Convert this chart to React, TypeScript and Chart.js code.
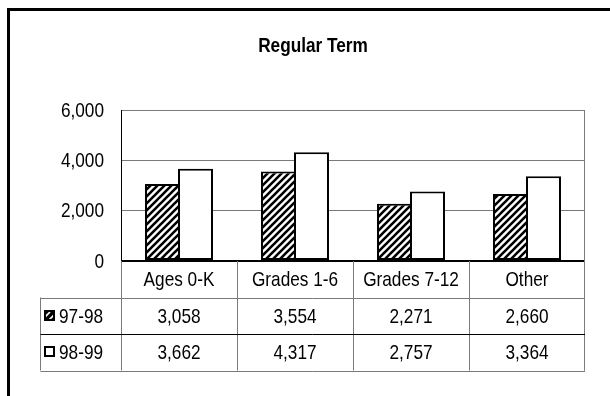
import React, { useEffect, useRef } from "react";
import { Chart, registerables } from "chart.js";

Chart.register(...registerables);

const title = "Regular Term";
const categories = ["Ages 0-K", "Grades 1-6", "Grades 7-12", "Other"];
const seriesNames = ["97-98", "98-99"];
const values9798 = [3058, 3554, 2271, 2660];
const values9899 = [3662, 4317, 2757, 3364];
const yTicks = [0, 2000, 4000, 6000];

const FONT = "'Liberation Sans', Arial, sans-serif";
const FS = 21;
const SQUEEZE = 0.82;

function makeHatch(): CanvasPattern | string {
  const c = document.createElement("canvas");
  const n = 7;
  c.width = n;
  c.height = n;
  const g = c.getContext("2d");
  if (!g) return "#555";
  g.fillStyle = "#fff";
  g.fillRect(0, 0, n, n);
  g.strokeStyle = "#000";
  g.lineWidth = 2.6;
  g.beginPath();
  g.moveTo(-1, n + 1);
  g.lineTo(n + 1, -1);
  g.moveTo(-2, 2);
  g.lineTo(2, -2);
  g.moveTo(n - 2, n + 2);
  g.lineTo(n + 2, n - 2);
  g.stroke();
  const p = g.createPattern(c, "repeat");
  return p || "#555";
}

const fmt = (v: number) => v.toLocaleString("en-US");

function narrowText(
  ctx: CanvasRenderingContext2D,
  text: string,
  x: number,
  y: number,
  align: CanvasTextAlign,
  bold = false
) {
  ctx.save();
  ctx.font = `${bold ? "bold " : ""}${FS}px ${FONT}`;
  ctx.fillStyle = "#000";
  ctx.textAlign = align;
  ctx.textBaseline = "middle";
  ctx.translate(x, y);
  ctx.scale(SQUEEZE, 1);
  ctx.fillText(text, 0, 0);
  ctx.restore();
}

const tablePlugin = {
  id: "tablePlugin",
  afterDraw(chart: any) {
    const ctx = chart.ctx as CanvasRenderingContext2D;
    const area = chart.chartArea;
    const yScale = chart.scales.y;
    const n = categories.length;
    const catW = (area.right - area.left) / n;
    const rowH = 36.5;
    const top0 = area.bottom;
    const legendLeft = 40.5;
    ctx.save();

    // outer frame
    ctx.fillStyle = "#000";
    ctx.fillRect(7, 8, 700, 3);
    ctx.fillRect(7, 8, 3, 500);

    // title
    narrowText(ctx, title, 313, 46, "center", true);

    // y tick labels
    yTicks.forEach((v) => {
      narrowText(ctx, fmt(v), 104, yScale.getPixelForValue(v) + 1, "right");
    });

    const grey = "#7a7a7a";
    ctx.lineWidth = 1;
    ctx.strokeStyle = grey;
    ctx.beginPath();
    ctx.moveTo(area.right - 0.5, area.top);
    ctx.lineTo(area.right - 0.5, top0 + rowH * 3);
    ctx.stroke();

    for (let i = 0; i <= n; i++) {
      const x = Math.round(area.left + catW * i) + 0.5;
      ctx.beginPath();
      ctx.moveTo(i === n ? x - 1 : x, top0);
      ctx.lineTo(i === n ? x - 1 : x, top0 + rowH * 3);
      ctx.stroke();
    }
    ctx.beginPath();
    ctx.moveTo(legendLeft, top0 + rowH);
    ctx.lineTo(legendLeft, top0 + rowH * 3);
    ctx.stroke();
    const hl = (y: number, color: string) => {
      ctx.strokeStyle = color;
      ctx.beginPath();
      ctx.moveTo(legendLeft, Math.round(y) + 0.5);
      ctx.lineTo(area.right, Math.round(y) + 0.5);
      ctx.stroke();
    };
    hl(top0 + rowH, grey);
    hl(top0 + rowH * 2, "#000");
    hl(top0 + rowH * 3, grey);

    const rows = [values9798, values9899];
    for (let i = 0; i < n; i++) {
      const cx = area.left + catW * (i + 0.5);
      narrowText(ctx, categories[i], cx, top0 + rowH * 0.5 + 1, "center");
      rows.forEach((r, k) => {
        narrowText(ctx, fmt(r[i]), cx, top0 + rowH * (k + 1.5) + 1, "center");
      });
    }
    seriesNames.forEach((name, k) => {
      const cy = top0 + rowH * (k + 1.5);
      const kx = 44;
      const ky = Math.round(cy - 6);
      if (k === 0) {
        ctx.fillStyle = "#000";
        ctx.fillRect(kx, ky, 11, 11);
        ctx.save();
        ctx.beginPath();
        ctx.rect(kx + 2, ky + 2, 7, 7);
        ctx.clip();
        ctx.strokeStyle = "#fff";
        ctx.lineWidth = 1.6;
        ctx.beginPath();
        ctx.moveTo(kx + 1, ky + 7);
        ctx.lineTo(kx + 6, ky + 2);
        ctx.moveTo(kx + 5, ky + 10);
        ctx.lineTo(kx + 10, ky + 5);
        ctx.stroke();
        ctx.restore();
      } else {
        ctx.fillStyle = "#fff";
        ctx.fillRect(kx, ky, 11, 11);
        ctx.strokeStyle = "#000";
        ctx.lineWidth = 2;
        ctx.strokeRect(kx + 1, ky + 1, 9, 9);
      }
      narrowText(ctx, name, 59, cy + 1, "left");
    });
    ctx.restore();
  },
};

export default function App() {
  const ref = useRef<HTMLCanvasElement | null>(null);
  useEffect(() => {
    if (!ref.current) return;
    const hatch = makeHatch();
    const chart = new Chart(ref.current, {
      type: "bar",
      data: {
        labels: categories,
        datasets: [
          {
            label: seriesNames[0],
            data: values9798,
            backgroundColor: hatch as any,
            borderColor: "#000",
            borderWidth: 2,
            borderSkipped: false,
          },
          {
            label: seriesNames[1],
            data: values9899,
            backgroundColor: "#fff",
            borderColor: "#000",
            borderWidth: 2,
            borderSkipped: false,
          },
        ],
      },
      options: {
        responsive: false,
        animation: false,
        devicePixelRatio: 1,
        datasets: { bar: { categoryPercentage: 0.569, barPercentage: 1.06 } },
        layout: { padding: { top: 110, left: 0, right: 25, bottom: 135 } },
        plugins: {
          legend: { display: false },
          title: { display: false },
          tooltip: { enabled: false },
        },
        scales: {
          x: { display: false },
          y: {
            min: 0,
            max: 6000,
            afterFit: (s: any) => {
              s.width = 121;
            },
            afterBuildTicks: (s: any) => {
              s.ticks = yTicks.map((v) => ({ value: v }));
            },
            ticks: { display: false },
            grid: {
              drawTicks: false,
              color: (c: any) => (c.tick && c.tick.value === 0 ? "#000" : "#7a7a7a"),
              lineWidth: (c: any) => (c.tick && c.tick.value === 0 ? 2 : 1),
            },
            border: { display: true, color: "#000", width: 1 },
          },
        },
      },
      plugins: [tablePlugin],
    });
    return () => chart.destroy();
  }, []);
  return (
    <div style={{ position: "absolute", left: 0, top: 0, width: 610, height: 396, background: "#fff" }}>
      <canvas ref={ref} width={610} height={396} style={{ display: "block" }} />
    </div>
  );
}
